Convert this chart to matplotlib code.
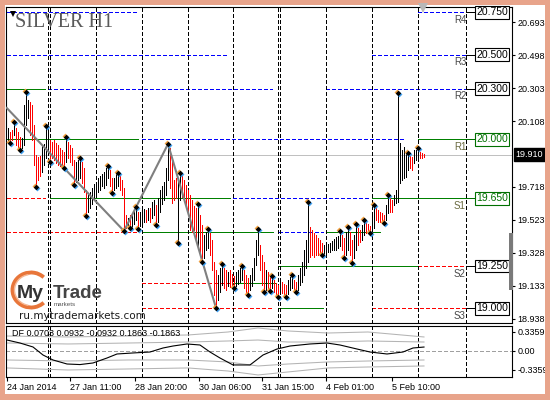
import matplotlib
matplotlib.use("Agg")
import matplotlib.pyplot as plt
from matplotlib.patches import Rectangle, Arc

plt.rcParams['font.family'] = ['Liberation Sans', 'DejaVu Sans']

# ---------------- data (SILVER H1, prices) ----------------
bar_high = [
    20.067, 20.043, 20.055, 20.102, 20.067, 20.043, 20.013, 20.007, 20.202, 20.279,
    20.232, 20.220, 20.202, 20.084, 19.907, 19.895, 19.901, 19.960, 19.972, 20.078,
    20.067, 19.996, 19.984, 19.996, 19.978, 19.966, 19.948, 19.936, 19.925, 20.013,
    19.984, 19.966, 19.948, 19.877, 19.866, 19.877, 19.889, 19.866, 19.830, 19.700,
    19.671, 19.688, 19.712, 19.736, 19.747, 19.771, 19.783, 19.795, 19.806, 19.830,
    19.842, 19.818, 19.771, 19.771, 19.795, 19.801, 19.789, 19.759, 19.712, 19.552,
    19.535, 19.552, 19.552, 19.582, 19.600, 19.570, 19.570, 19.582, 19.588, 19.582,
    19.594, 19.594, 19.629, 19.641, 19.611, 19.653, 19.700, 19.724, 19.747, 19.830,
    19.972, 19.948, 19.877, 19.759, 19.771, 19.771, 19.801, 19.789, 19.759, 19.730,
    19.700, 19.671, 19.641, 19.606, 19.594, 19.617, 19.552, 19.493, 19.434, 19.452,
    19.470, 19.446, 19.405, 19.275, 19.227, 19.198, 19.239, 19.263, 19.239, 19.227,
    19.215, 19.227, 19.204, 19.192, 19.215, 19.227, 19.239, 19.251, 19.227, 19.198,
    19.180, 19.198, 19.239, 19.298, 19.405, 19.470, 19.375, 19.316, 19.275, 19.227,
    19.215, 19.198, 19.192, 19.168, 19.150, 19.139, 19.156, 19.156, 19.145, 19.139,
    19.168, 19.186, 19.198, 19.168, 19.156, 19.198, 19.239, 19.275, 19.345, 19.405,
    19.629, 19.481, 19.464, 19.446, 19.434, 19.416, 19.405, 19.387, 19.375, 19.375,
    19.381, 19.387, 19.399, 19.411, 19.422, 19.428, 19.458, 19.434, 19.416, 19.452,
    19.481, 19.452, 19.405, 19.434, 19.499, 19.476, 19.464, 19.493, 19.523, 19.505,
    19.499, 19.487, 19.552, 19.611, 19.594, 19.582, 19.570, 19.564, 19.552, 19.611,
    19.671, 19.653, 19.641, 19.671, 19.700, 20.273, 19.978, 19.936, 19.954, 19.919,
    19.919, 19.907, 19.895, 19.936, 19.936, 19.948, 19.925, 19.919, 19.913,
]
bar_low = [
    19.978, 19.978, 19.996, 20.025, 19.966, 19.948, 19.936, 19.948, 19.966, 20.084,
    20.126, 20.025, 19.996, 19.848, 19.718, 19.759, 19.783, 19.806, 19.848, 19.889,
    19.936, 19.866, 19.889, 19.877, 19.860, 19.848, 19.842, 19.842, 19.830, 19.866,
    19.889, 19.866, 19.848, 19.730, 19.747, 19.759, 19.771, 19.741, 19.688, 19.546,
    19.570, 19.594, 19.617, 19.641, 19.665, 19.688, 19.700, 19.724, 19.712, 19.730,
    19.771, 19.724, 19.682, 19.700, 19.712, 19.724, 19.700, 19.671, 19.458, 19.476,
    19.476, 19.476, 19.481, 19.499, 19.523, 19.470, 19.487, 19.493, 19.511, 19.511,
    19.523, 19.511, 19.535, 19.552, 19.493, 19.511, 19.570, 19.617, 19.641, 19.671,
    19.759, 19.712, 19.623, 19.641, 19.653, 19.387, 19.641, 19.659, 19.641, 19.600,
    19.552, 19.464, 19.452, 19.464, 19.405, 19.375, 19.316, 19.275, 19.298, 19.345,
    19.357, 19.316, 19.227, 19.080, 19.003, 19.050, 19.097, 19.139, 19.121, 19.109,
    19.133, 19.127, 19.127, 19.121, 19.133, 19.145, 19.156, 19.168, 19.121, 19.097,
    19.080, 19.109, 19.133, 19.168, 19.257, 19.316, 19.227, 19.139, 19.097, 19.109,
    19.109, 19.103, 19.121, 19.097, 19.080, 19.068, 19.085, 19.091, 19.080, 19.068,
    19.085, 19.109, 19.121, 19.109, 19.097, 19.109, 19.139, 19.156, 19.198, 19.239,
    19.275, 19.304, 19.316, 19.304, 19.316, 19.316, 19.316, 19.316, 19.322, 19.328,
    19.334, 19.334, 19.345, 19.345, 19.345, 19.357, 19.369, 19.345, 19.298, 19.316,
    19.345, 19.316, 19.269, 19.298, 19.345, 19.375, 19.393, 19.405, 19.434, 19.446,
    19.446, 19.446, 19.446, 19.476, 19.523, 19.511, 19.511, 19.505, 19.505, 19.523,
    19.564, 19.570, 19.570, 19.611, 19.623, 19.629, 19.741, 19.759, 19.771, 19.777,
    19.818, 19.830, 19.818, 19.860, 19.877, 19.889, 19.889, 19.889, 19.895,
]
bar_dir = list(
    "UDDUDDDUUU" "UDDDDDDUUU" "UDDDDDDDDU" "DDDDUUUDDD" "UUUUUUUUUU"
    "UDDUUUDDDD" "UDUUUDUUUD" "UDUUDUUUUU" "UDDDDUUDDD" "DDDDDUDDUU"
    "UDDDDUUUDD" "UDDDUUUUDD" "DUUUUUDDDU" "DDUDDDUDDD" "UUUDDUUUUU"
    "UDDDDDDDUU" "UUUUUUUDDU" "UDDUUDDUUD" "DDUUDDDDDU" "UDDUUUUUUU"
    "UDDUUUDDD"
)
fractal_up_idx = [3, 9, 19, 29, 36, 50, 55, 64, 80, 86, 95, 100, 107, 117, 125,
                  132, 142, 150, 166, 170, 174, 178, 183, 190, 195, 200, 205]
fractal_dn_idx = [1, 6, 14, 21, 28, 33, 39, 52, 58, 61, 65, 74, 85, 97, 104, 113,
                  120, 128, 131, 135, 139, 144, 157, 168, 172, 181, 188]
zigzag_idx = [-1, 58, 80, 104]
zigzag_price = [20.19, 19.458, 19.972, 19.003]

level_prices = [20.75, 20.50, 20.30, 20.00, 19.65, 19.25, 19.00]
level_names = ["R4", "R3", "R2", "R1", "S1", "S2", "S3"]
bid_price = 19.910
price_ticks = [20.693, 20.498, 20.303, 20.108, 19.718, 19.523, 19.328, 19.133, 18.938]

# (price, from bar, to bar, kind)  kind: b = blue dashed, g = green, r = red dashed
level_segments = [
    (20.75, -0.5, 64.5, 'b'), (20.75, 205, 229, 'b'),
    (20.50, -0.5, 110.5, 'b'), (20.50, 182, 229, 'b'),
    (20.30, -0.5, 18.5, 'g'), (20.30, 20, 132, 'b'), (20.30, 159, 229, 'b'),
    (20.00, -0.5, 65, 'g'), (20.00, 67, 198, 'b'), (20.00, 205, 229, 'g'),
    (19.65, -0.5, 18.5, 'r'), (19.65, 21, 111, 'g'), (19.65, 112.5, 181, 'b'), (19.65, 182, 229, 'g'),
    (19.45, -0.5, 64.5, 'r'), (19.45, 67, 132.5, 'g'), (19.45, 135.5, 157.5, 'b'), (19.45, 159, 186, 'g'),
    (19.25, 135.5, 205, 'g'), (19.25, 205, 229, 'r'),
    (19.15, 67, 112, 'r'), (19.15, 112.5, 133.5, 'g'),
    (19.00, 67, 132.5, 'r'), (19.00, 135.5, 157.5, 'g'), (19.00, 182, 229, 'r'),
]
day_separators = [20, 21, 44, 67, 90, 112.5, 135, 136, 159, 182, 205, 229]
time_tick_bars = [-0.5, 31, 63.5, 95.5, 127, 159, 192]
time_tick_labels = ["24 Jan 2014", "27 Jan 11:00", "28 Jan 20:00", "30 Jan 06:00",
                    "31 Jan 15:00", "4 Feb 01:00", "5 Feb 10:00"]

df_idx = [-0.5, 6, 12.5, 17.5, 22.5, 29.5, 36, 42.5, 49.5, 54.5, 62.5, 71, 77.5, 82.5,
          89.5, 96, 101, 106, 112.5, 121, 127.5, 134.5, 141, 151, 159.5, 166, 174.5,
          181, 189.5, 197.5, 202.5, 208]
df_val = [0.194, 0.141, 0.071, -0.071, -0.159, -0.230, -0.240, -0.212, -0.124, -0.053,
          -0.035, -0.018, 0.053, 0.088, 0.124, 0.106, -0.018, -0.124, -0.247, -0.247,
          -0.071, 0.035, 0.088, 0.124, 0.141, 0.106, 0.035, -0.018, -0.053, -0.018,
          0.053, 0.070]
band_idx = [-0.5, 30, 60, 90, 110, 125, 140, 160, 180, 208]
band_outer_up = [0.265, 0.248, 0.265, 0.283, 0.336, 0.407, 0.354, 0.318, 0.336, 0.248]
band_inner_up = [0.141, 0.124, 0.141, 0.159, 0.177, 0.194, 0.159, 0.159, 0.177, 0.159]
band_inner_dn = [-0.159, -0.177, -0.159, -0.159, -0.194, -0.265, -0.230, -0.194, -0.177, -0.159]
band_outer_dn = [-0.300, -0.336, -0.318, -0.300, -0.354, -0.424, -0.371, -0.300, -0.283, -0.265]
df_ticks = [0.3359, 0.0, -0.3359]
df_tick_labels = ["0.3359", "0.00", "-0.3359"]
df_title = "DF 0.0703 0.0932 -0.0932 0.1863 -0.1863"

# ---------------- figure ----------------
W, H = 550, 400
fig = plt.figure(figsize=(5.5, 4.0), dpi=100)
fig.patch.set_facecolor('white')


def fx(px):
    return px / W


def fy(py):
    return 1 - py / H


PX = 0.72  # one pixel in points

ax = fig.add_axes([fx(6), fy(323), fx(512) - fx(6), fy(6.5) - fy(323)])
axi = fig.add_axes([fx(6), fy(377), fx(512) - fx(6), fy(326) - fy(377)])
for a in (ax, axi):
    a.set_xlim(-1, 252)
    for s in a.spines.values():
        s.set_linewidth(0.8)
        s.set_color('black')
ax.set_ylim(18.914, 20.785)
axi.set_ylim(-0.46, 0.442)

DASH = (0, (3, 2.5))

# separators
for s in day_separators:
    for a in (ax, axi):
        a.axvline(s, color='black', lw=PX, ls=DASH, zorder=1.5, antialiased=False)

# level segments
seg_style = {'b': dict(color='#0000ff', ls=DASH),
             'g': dict(color='#008000', ls='-'),
             'r': dict(color='#ff0000', ls=DASH)}
for p, a0, a1, k in level_segments:
    ax.plot([a0, a1], [p, p], lw=PX, zorder=1, antialiased=False, **seg_style[k])
ax.axhline(bid_price, color='#c0c0c0', lw=PX, zorder=1, antialiased=False)

# bars
idx = list(range(len(bar_high)))
colors = ['black' if d == 'U' else '#ff0000' for d in bar_dir]
ax.vlines(idx, bar_low, bar_high, colors=colors, linewidth=PX, zorder=3,
          antialiaseds=False)

# zigzag
ax.plot(zigzag_idx, zigzag_price, color='#7f7f7f', lw=1.5, zorder=3.5,
        solid_capstyle='butt')

# fractals (black diamonds with orange / blue fringe)
for fidx, src in ((fractal_up_idx, bar_high), (fractal_dn_idx, bar_low)):
    fy_ = [src[i] for i in fidx]
    ax.scatter([i - 0.35 for i in fidx], [v + 0.004 for v in fy_], marker='D', s=9,
               color='#f0a040', linewidths=0, zorder=4.8)
    ax.scatter([i + 0.35 for i in fidx], [v - 0.004 for v in fy_], marker='D', s=9,
               color='#40a0f0', linewidths=0, zorder=4.8)
    ax.scatter(fidx, fy_, marker='D', s=8, color='black', linewidths=0, zorder=5)

# level labels
for p, name in zip(level_prices, level_names):
    c = '#007000' if p in (20.0, 19.65) else 'black'
    ax.plot([229, 233.5], [p, p], color=c, lw=PX, zorder=5, antialiased=False)
    ax.text(242, p, f"{p:.3f}", ha='center', va='center', fontsize=7.5, color=c,
            bbox=dict(boxstyle='square,pad=0.12', fc='white', ec=c, lw=0.8), zorder=6)
    tc = '#6a6a40' if name in ("R1", "S1") else '#484848'
    ax.annotate(name, (226, p), xytext=(0, -5.5), textcoords='offset points',
                ha='center', va='center', fontsize=7, color=tc, zorder=6)

# price axis
ax.set_xticks([])
ax.yaxis.tick_right()
ax.set_yticks(price_ticks)
ax.set_yticklabels([f"{t:.3f}" for t in price_ticks])
ax.tick_params(axis='y', direction='out', length=2.5, width=0.8, pad=1.5, labelsize=6.5)
ax.annotate(f"{bid_price:.3f}", xy=(1, bid_price), xycoords=('axes fraction', 'data'),
            xytext=(2.5, 0), textcoords='offset points', ha='left', va='center',
            color='white', fontsize=6.5,
            bbox=dict(boxstyle='square,pad=0.2', fc='black', ec='black'),
            annotation_clip=False, zorder=10)

# indicator
axi.axhline(0, color='#a0a0a0', lw=PX, ls=DASH, zorder=1, antialiased=False)
for band in (band_outer_up, band_inner_up, band_inner_dn, band_outer_dn):
    axi.plot(band_idx, band, color='#b4b4b4', lw=0.75, zorder=2)
axi.plot(df_idx, df_val, color='black', lw=0.8, zorder=3)
axi.yaxis.tick_right()
axi.set_yticks(df_ticks)
axi.set_yticklabels(df_tick_labels)
axi.tick_params(axis='y', direction='out', length=2.5, width=0.8, pad=1.5, labelsize=6.5)
axi.set_xticks(time_tick_bars)
axi.set_xticklabels(time_tick_labels, ha='left')
axi.tick_params(axis='x', direction='out', length=3, width=0.8, pad=1.5, labelsize=6.5)

# ---------------- decorations (pixel overlay) ----------------
ov = fig.add_axes([0, 0, 1, 1], zorder=10)
ov.set_xlim(0, W)
ov.set_ylim(H, 0)
ov.axis('off')
ov.patch.set_alpha(0)

frame_c = '#e8a48b'
for (x, y, w, h) in [(0, 0, W, 5), (0, 0, 5, H), (545, 0, 5, H), (0, 394, W, 6)]:
    ov.add_patch(Rectangle((x, y), w, h, fc=frame_c, ec='none'))

ov.text(15, 27, "SILVER H1", fontsize=14.5, family=['Liberation Serif', 'DejaVu Serif'],
        color='#5a5a5a', ha='left', va='baseline')
ov.plot([13], [14], marker='v', ms=4, color='black', mew=0)
ov.plot([423], [8], marker='v', ms=7, color='#b8b8b8', mew=0)

# logo
ov.add_patch(Arc((31, 290), 37, 35, theta1=45, theta2=315, color='#e8763a', lw=2.8))
ov.add_patch(Arc((31, 290), 33, 31, theta1=100, theta2=260, color='#f6b894', lw=1.0))
ov.text(17, 298.5, "My", fontsize=14, fontweight='bold', color='#333333',
        ha='left', va='baseline')
ov.text(53, 298.5, "Trade", fontsize=13.5, fontweight='bold', color='#444444',
        ha='left', va='baseline')
ov.text(54, 305, "markets", fontsize=4.5, color='#555555', ha='left', va='center')
ov.text(19, 316, "ru.mytrademarkets.com", fontsize=7.5, family='DejaVu Sans',
        color='#1a1a1a', ha='left', va='center')

ov.text(12, 334, df_title, fontsize=6.5, color='black', ha='left', va='center')

ov.add_patch(Rectangle((509, 233), 4, 57, fc='#7a7a7a', ec='none'))

fig.savefig("out.png", dpi=100)
